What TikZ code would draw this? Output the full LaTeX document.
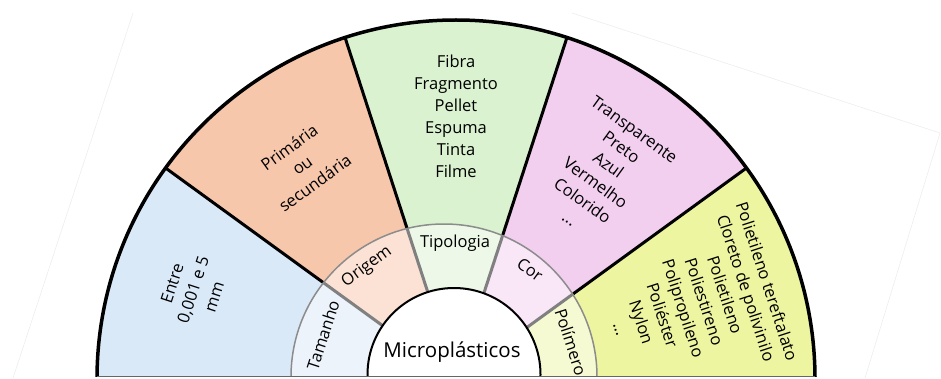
\documentclass[tikz,border=0pt]{standalone}
\usepackage{fontspec}
\setmainfont{Open Sans}
\definecolor{tamout}{HTML}{DAE9F8}
\definecolor{tamin}{HTML}{ECF3FB}
\definecolor{oriout}{HTML}{F7C7AC}
\definecolor{oriin}{HTML}{FBE2D5}
\definecolor{tipout}{HTML}{DAF2D0}
\definecolor{tipin}{HTML}{EDF8E8}
\definecolor{corout}{HTML}{F2CEEF}
\definecolor{corin}{HTML}{F9E6F7}
\definecolor{polout}{HTML}{EEF5A1}
\definecolor{polin}{HTML}{F6FAD2}

\begin{document}
\begin{tikzpicture}[x=1pt,y=1pt,
 sep/.style={black,line width=3pt},
 ringsep/.style={black!50,line width=3pt},
 lbl/.style={align=center,inner sep=0pt,font=\fontsize{16.5}{22}\selectfont}]
\useasboundingbox (0,0) rectangle (941,378);
\coordinate (O) at (456,-1);
\coordinate (R) at (444,1);
\coordinate (C) at (454,3.5);
% faint sheet edges
\draw[black!7,line width=0.6pt] (133,365) -- (13,0);
\draw[black!7,line width=0.6pt] (572,365) -- (940,245) -- (865,0);
\begin{scope}
\clip (0,1.5) rectangle (941,378);
\foreach \a/\c in {144/tamout,108/oriout,72/tipout,36/corout,0/polout}
  \fill[\c] (O) -- ++(\a:359) arc[start angle=\a,end angle=\a+36,radius=359] -- cycle;
\foreach \a in {36,72,108,144}
  \draw[sep] (O) -- ++(\a:359);
% inner ring
\begin{scope}
\clip (R) circle[radius=153];
\foreach \a/\c in {144/tamin,108/oriin,72/tipin,36/corin,0/polin}
  \fill[\c] (O) -- ++(\a:400) arc[start angle=\a,end angle=\a+36,radius=400] -- cycle;
\foreach \a in {36,72,108,144}
  \draw[ringsep] (O) -- ++(\a:200);
\end{scope}
\draw[black!45,line width=1.5pt] (R) circle[radius=153];
\draw[black,fill=white,line width=2pt] (C) circle[radius=86.5];
\draw[black,line width=3.5pt] (O) ++(0:359) arc[start angle=0,end angle=180,radius=359];
\end{scope}
\draw[black!60,line width=1.2pt] (97,1.5) -- (815,1.5);
% outer texts
\node[lbl,rotate=72] (tamtxt) at (193,88) {Entre\\0,001 e 5\\mm};
\node[lbl,rotate=36] (oritxt) at (302,213) {Primária\\ou\\secundária};
\node[lbl] (tiptxt) at (456,262) {Fibra\\Fragmento\\Pellet\\Espuma\\Tinta\\Filme};
\node[lbl,rotate=-36] (cortxt) at (602,204) {Transparente\\Preto\\Azul\\Vermelho\\Colorido\\...};
\node[lbl,rotate=-72] (poltxt) at (694,73) {Polietileno tereftalato\\Cloreto de polivinilo\\Polietileno\\Poliestireno\\Polipropileno\\Poliéster\\Nylon\\...};
% ring labels
\node[lbl,rotate=72] (tam) at (323,43) {Tamanho};
\node[lbl,rotate=36] (ori) at (367,111) {Origem};
\node[lbl] (tip) at (455,135) {Tipologia};
\node[lbl,rotate=-36] (cor) at (530,108) {Cor};
\node[lbl,rotate=-72] (pol) at (571,36) {Polímero};
\node[inner sep=0pt,anchor=base,font=\fontsize{20.5}{24}\selectfont] (micro) at (452,21) {Microplásticos};
\end{tikzpicture}
\end{document}
